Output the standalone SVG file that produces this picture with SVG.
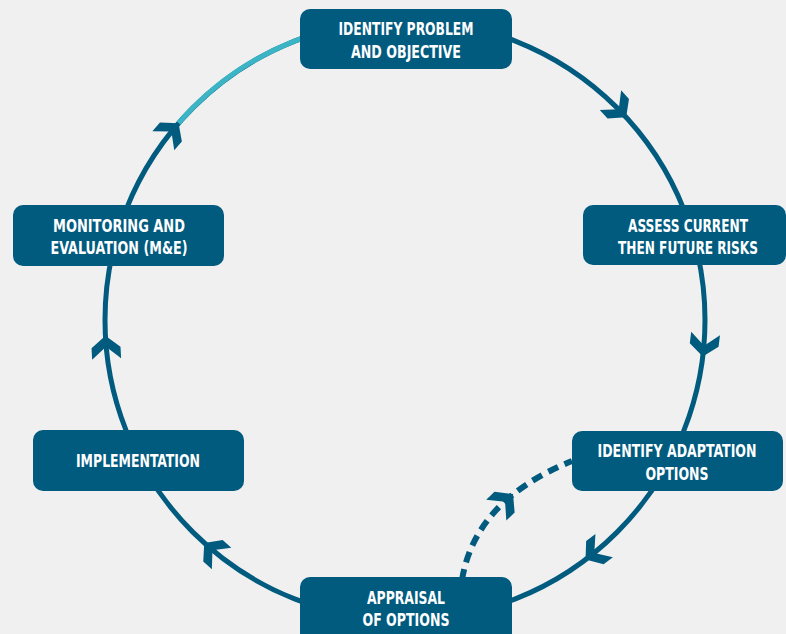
<svg xmlns="http://www.w3.org/2000/svg" width="786" height="634" viewBox="0 0 786 634">
<style>
.bg{fill:#f0f0f0}
.ring{fill:none;stroke:#005b7f;stroke-width:5}
.teal{fill:none;stroke:#3bb5c6;stroke-width:5}
.dash{fill:none;stroke:#005b7f;stroke-width:6;stroke-dasharray:11 7}
.box{fill:#005b7f}
.lbl{fill:#ffffff;font-family:"DejaVu Sans Condensed","Liberation Sans Narrow","DejaVu Sans",sans-serif;font-stretch:condensed;font-weight:bold;font-size:17px;text-anchor:middle}
.arr{fill:#005b7f}
</style>
<defs>
<path id="ah" d="M0,0 L-14.5,-11.7 L-14.5,-23.3 L0,-11 L14.5,-23.3 L14.5,-11.7 Z"/>
</defs>
<rect class="bg" x="0" y="0" width="786" height="634"/>
<g id="connectors">
<circle class="ring" cx="405" cy="320" r="300"/>
<path class="teal" d="M178.6,123.2 A300,300 0 0 1 302.4,38.1"/>
<use href="#ah" class="arr" transform="rotate(-42.5 405 320) translate(705 320)"/>
<use href="#ah" class="arr" transform="rotate(7 405 320) translate(705 320)"/>
<use href="#ah" class="arr" transform="rotate(53 405 320) translate(705 320)"/>
<use href="#ah" class="arr" transform="rotate(132 405 320) translate(705 320)"/>
<use href="#ah" class="arr" transform="rotate(177 405 320) translate(705 320)"/>
<use href="#ah" class="arr" transform="rotate(221 405 320) translate(705 320)"/>
<path class="dash" d="M462,580 Q475,500 572,461"/>
<use href="#ah" class="arr" transform="translate(513,494) rotate(-134)"/>
</g>
<g id="n-identify-problem">
<rect class="box" x="300" y="9" width="212" height="60" rx="10"/>
<text class="lbl" transform="scale(0.8,1)" x="507.5" y="35" textLength="168.75" lengthAdjust="spacingAndGlyphs">IDENTIFY PROBLEM</text>
<text class="lbl" transform="scale(0.8,1)" x="507.5" y="58" textLength="137.5" lengthAdjust="spacingAndGlyphs">AND OBJECTIVE</text>
</g>
<g id="n-assess">
<rect class="box" x="583" y="205" width="203" height="60" rx="10"/>
<text class="lbl" transform="scale(0.8,1)" x="860" y="232" textLength="150" lengthAdjust="spacingAndGlyphs">ASSESS CURRENT</text>
<text class="lbl" transform="scale(0.8,1)" x="860" y="254" textLength="175" lengthAdjust="spacingAndGlyphs">THEN FUTURE RISKS</text>
</g>
<g id="n-adaptation">
<rect class="box" x="572" y="431" width="211" height="60" rx="10"/>
<text class="lbl" transform="scale(0.8,1)" x="846.25" y="457" textLength="198.75" lengthAdjust="spacingAndGlyphs">IDENTIFY ADAPTATION</text>
<text class="lbl" transform="scale(0.8,1)" x="846.25" y="480" textLength="78.75" lengthAdjust="spacingAndGlyphs">OPTIONS</text>
</g>
<g id="n-appraisal">
<rect class="box" x="300" y="577" width="212" height="70" rx="10"/>
<text class="lbl" transform="scale(0.8,1)" x="507.5" y="604" textLength="97.5" lengthAdjust="spacingAndGlyphs">APPRAISAL</text>
<text class="lbl" transform="scale(0.8,1)" x="507.5" y="626" textLength="108.75" lengthAdjust="spacingAndGlyphs">OF OPTIONS</text>
</g>
<g id="n-implementation">
<rect class="box" x="33" y="430" width="211" height="61" rx="10"/>
<text class="lbl" transform="scale(0.8,1)" x="172.5" y="467" textLength="155" lengthAdjust="spacingAndGlyphs">IMPLEMENTATION</text>
</g>
<g id="n-monitoring">
<rect class="box" x="13" y="205" width="211" height="61" rx="10"/>
<text class="lbl" transform="scale(0.8,1)" x="148.75" y="232" textLength="165" lengthAdjust="spacingAndGlyphs">MONITORING AND</text>
<text class="lbl" transform="scale(0.8,1)" x="148.75" y="254" textLength="171.25" lengthAdjust="spacingAndGlyphs">EVALUATION (M&amp;E)</text>
</g>
</svg>
